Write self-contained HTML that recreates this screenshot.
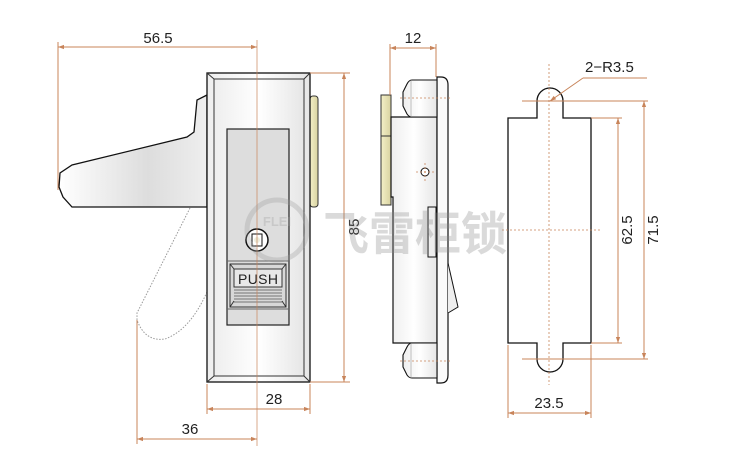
<!DOCTYPE html>
<html><head><meta charset="utf-8"><style>
html,body{margin:0;padding:0;background:#fff;}
svg{display:block;}
text{font-family:"Liberation Sans","Noto Sans CJK SC",sans-serif;}
</style></head><body>
<svg width="750" height="469" viewBox="0 0 750 469" xmlns="http://www.w3.org/2000/svg">
<defs>
<linearGradient id="hg" x1="0" x2="1"><stop offset="0" stop-color="#fff"/><stop offset="0.6" stop-color="#ddd"/><stop offset="1" stop-color="#eee"/></linearGradient>
<linearGradient id="bg" x1="0" x2="1"><stop offset="0" stop-color="#eee"/><stop offset="0.5" stop-color="#fff"/><stop offset="1" stop-color="#e6e6e6"/></linearGradient>
<linearGradient id="yg" x1="0" x2="1"><stop offset="0" stop-color="#f4f0c8"/><stop offset="1" stop-color="#d8d2a0"/></linearGradient>
<marker id="a" viewBox="0 0 10 10" refX="10" refY="5" markerWidth="9" markerHeight="6" orient="auto-start-reverse" markerUnits="userSpaceOnUse"><path d="M0,1.5 L10,5 L0,8.5z" fill="#c8845a"/></marker>
</defs>

<!-- FRONT VIEW -->
<polygon points="207,95 197,100 194,132 187,137 72,165 60,173 59,187 63,197 72,207 207,207" fill="url(#hg)" stroke="#111" stroke-width="1.3"/>
<path d="M190,208 L137,313 L137,320 Q145,342 165,339 Q190,330 207,292" fill="none" stroke="#999" stroke-width="1" stroke-dasharray="1.5,1.5"/>
<rect x="310" y="96" width="8" height="111" rx="3" fill="url(#yg)" stroke="#333" stroke-width="1"/>
<rect x="207" y="73" width="103" height="309" fill="url(#bg)" stroke="#111" stroke-width="1.3"/>
<rect x="214" y="79" width="90" height="297" fill="url(#bg)" stroke="#333" stroke-width="1"/>
<path d="M207,73 L214,79 M310,73 L304,79 M207,382 L214,376 M310,382 L304,376" stroke="#333"/>
<rect x="227" y="129" width="62" height="196" fill="#ddd" stroke="#222" stroke-width="1.2"/>
<line x1="227" y1="261" x2="289" y2="261" stroke="#666"/>
<line x1="227" y1="309" x2="289" y2="309" stroke="#666"/>
<circle cx="257" cy="240" r="11" fill="#fff" stroke="#111" stroke-width="1.5"/>
<rect x="252" y="234" width="10" height="12" fill="none" stroke="#111"/>
<circle cx="257" cy="240" r="3" fill="#eed"/>
<rect x="230" y="264" width="56" height="43" fill="#d8d8d8" stroke="#333"/>
<rect x="234" y="269" width="48" height="18" fill="#e8e8e8" stroke="#333"/>
<path d="M230,264 L234,269 M286,264 L282,269 M230,307 L234,301 M286,307 L282,301" stroke="#333"/>
<text x="258" y="284" font-size="14" text-anchor="middle" fill="#222" textLength="40">PUSH</text>
<g stroke="#555" stroke-width="0.8">
<line x1="234" y1="290" x2="282" y2="290"/><line x1="234" y1="293" x2="282" y2="293"/><line x1="234" y1="296" x2="282" y2="296"/><line x1="234" y1="299" x2="282" y2="299"/><line x1="234" y1="302" x2="282" y2="302"/>
</g>

<!-- front dims -->
<g stroke="#c8845a" stroke-width="1" fill="none">
<line x1="257" y1="40" x2="257" y2="446" stroke-width="0.7"/>
<line x1="58" y1="42" x2="58" y2="190"/>
<line x1="58" y1="47" x2="257" y2="47" marker-start="url(#a)" marker-end="url(#a)"/>
<line x1="310" y1="73" x2="350" y2="73"/><line x1="310" y1="382" x2="350" y2="382"/>
<line x1="344" y1="73" x2="344" y2="382" marker-start="url(#a)" marker-end="url(#a)"/>
<line x1="207" y1="384" x2="207" y2="414"/><line x1="310" y1="384" x2="310" y2="414"/>
<line x1="207" y1="409" x2="310" y2="409" marker-start="url(#a)" marker-end="url(#a)"/>
<line x1="137" y1="320" x2="137" y2="444"/>
<line x1="137" y1="439" x2="257" y2="439" marker-start="url(#a)" marker-end="url(#a)"/>
</g>
<g font-size="15" fill="#222">
<text x="158" y="43" text-anchor="middle">56.5</text>
<text x="274" y="404" text-anchor="middle">28</text>
<text x="190" y="434" text-anchor="middle">36</text>
<text transform="translate(359,227) rotate(-90)" text-anchor="middle">85</text>
</g>

<!-- SIDE VIEW -->
<rect x="381" y="95" width="10" height="110" fill="url(#yg)" stroke="#333"/>
<line x1="381" y1="136" x2="391" y2="136" stroke="#333"/>
<path d="M391,117 L437,117 L437,343 L393,343 L393,197 L391,197 Z" fill="url(#bg)" stroke="#111" stroke-width="1.2"/>
<path d="M437,77 L441,77 Q448,77 448,85 L448,375 Q448,383 441,383 L437,383 Z" fill="#fafafa" stroke="#111" stroke-width="1.2"/>
<path d="M437,80 L412,80 Q409,80 407,84 L403,92 L403,106 L407,114 Q409,117 412,117 L437,117 Z" fill="url(#bg)" stroke="#111" stroke-width="1.1"/>
<path d="M437,343 L412,343 Q409,343 407,347 L403,355 L403,367 L407,375 Q409,378 412,378 L437,378 Z" fill="url(#bg)" stroke="#111" stroke-width="1.1"/>
<line x1="411" y1="80" x2="411" y2="117" stroke="#999" stroke-width="0.6"/>
<line x1="411" y1="343" x2="411" y2="378" stroke="#999" stroke-width="0.6"/>
<circle cx="425" cy="172" r="4" fill="#fff" stroke="#111"/>
<rect x="428" y="207" width="8" height="50" fill="#eee" stroke="#111"/>
<path d="M448,263 L458,307 L448,313" fill="#eee" stroke="#111"/>
<g stroke="#c8845a" stroke-width="0.8" stroke-dasharray="2,2">
<line x1="400" y1="98" x2="450" y2="98"/><line x1="400" y1="361" x2="450" y2="361"/>
<line x1="416" y1="172" x2="434" y2="172"/><line x1="425" y1="163" x2="425" y2="181"/>
</g>
<g stroke="#c8845a" stroke-width="1">
<line x1="390" y1="44" x2="390" y2="95"/><line x1="436" y1="44" x2="436" y2="77"/>
<line x1="390" y1="48" x2="436" y2="48" marker-start="url(#a)" marker-end="url(#a)"/>
</g>
<text x="413" y="43" font-size="15" text-anchor="middle" fill="#222">12</text>

<!-- PLATE VIEW -->
<path d="M508,118 L537,118 L537,101 A13,13 0 0 1 563,101 L563,118 L591,118 L591,343 L563,343 L563,359 A13,13 0 0 1 537,359 L537,343 L508,343 Z" fill="#fff" stroke="#111" stroke-width="1.3"/>
<g stroke="#c8845a" stroke-width="0.8" stroke-dasharray="2,2">
<line x1="549" y1="64" x2="549" y2="385"/>
<line x1="502" y1="230" x2="600" y2="230"/>
</g>
<g stroke="#c8845a" stroke-width="1" fill="none">
<line x1="522" y1="101" x2="648" y2="101"/><line x1="522" y1="359" x2="648" y2="359"/>
<line x1="591" y1="118" x2="622" y2="118"/><line x1="591" y1="343" x2="622" y2="343"/>
<line x1="618" y1="118" x2="618" y2="343" marker-start="url(#a)" marker-end="url(#a)"/>
<line x1="644" y1="101" x2="644" y2="359" marker-start="url(#a)" marker-end="url(#a)"/>
<line x1="508" y1="345" x2="508" y2="418"/><line x1="591" y1="345" x2="591" y2="418"/>
<line x1="508" y1="413" x2="591" y2="413" marker-start="url(#a)" marker-end="url(#a)"/>
<line x1="583" y1="78" x2="550" y2="101" marker-end="url(#a)"/>
<line x1="583" y1="78" x2="647" y2="78"/>
</g>
<g font-size="15" fill="#222">
<text x="549" y="408" text-anchor="middle">23.5</text>
<text x="585" y="72">2−R3.5</text>
<text transform="translate(632,230) rotate(-90)" text-anchor="middle">62.5</text>
<text transform="translate(658,230) rotate(-90)" text-anchor="middle">71.5</text>
</g>

<!-- watermark -->
<g opacity="0.3">
<circle cx="277" cy="230" r="30" fill="none" stroke="#999" stroke-width="5"/>
<text x="277" y="226" font-size="13" font-weight="bold" fill="#999" text-anchor="middle">FLEI</text>
<text x="323" y="250" font-size="46" font-weight="bold" fill="#888">飞雷柜锁</text>
</g>
</svg>
</body></html>
